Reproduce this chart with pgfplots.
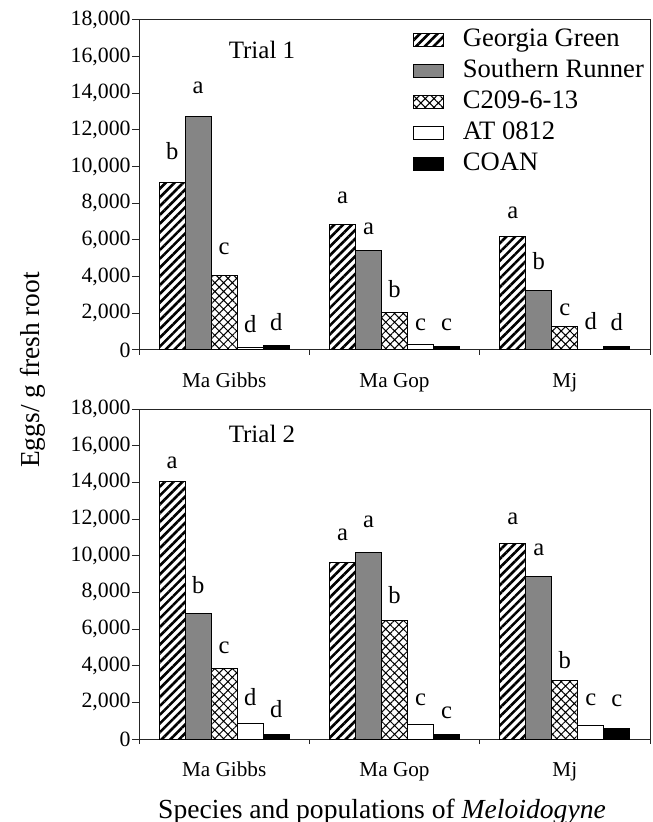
\documentclass[border=0pt]{standalone}
\usepackage{pgfplots}
\pgfplotsset{compat=1.18}
\usepackage{pgfplotstable}
\usetikzlibrary{patterns.meta}
\usepackage{fontspec}
\setmainfont{Liberation Serif}

\definecolor{srgray}{gray}{0.52}

% columns: value, letter, letter offset (px above bar top)
\pgfplotstableread{
x gg ggl ggo sr srl sro c2 c2l c2o at atl ato co col coo
0 9150 b 23 12730 a 23 4040 c 21 150 d 15 250 d 15
1 6850 a 21 5400 a 16 2020 b 15 290 c 14 200 c 16
2 6180 a 18 3240 b 21 1290 c 11 20 d 20 200 d 16
}\trialA

\pgfplotstableread{
x gg ggl ggo sr srl sro c2 c2l c2o at atl ato co col coo
0 14030 a 13 6840 b 20 3840 c 15 850 d 18 250 d 17
1 9610 a 22 10170 a 25 6440 b 17 780 c 19 270 c 16
2 10660 a 19 8850 a 21 3170 b 12 725 c 20 600 c 22
}\trialB

\pgfplotsset{
  myleg/.style={legend image code/.code={\draw[##1,draw=black,line width=0.5pt] (0pt,-3.25pt) rectangle (15pt,3.25pt);}},
  lettered/.style={nodes near coords, point meta=explicit symbolic,
    visualization depends on={\thisrow{#1} \as \ofs},
    nodes near coords style={anchor=base, inner sep=0pt, yshift=\ofs*0.5pt, text=black,
      font=\fontsize{12.3}{12}\selectfont}},
  gg/.style={draw=black, line width=0.5pt, pattern={Lines[angle=45,distance=3.1pt,line width=1.3pt]}, myleg},
  sr/.style={draw=black, line width=0.5pt, fill=srgray, myleg},
  c2/.style={draw=black, line width=0.5pt, pattern={Hatch[angle=45,distance=3.1pt,line width=0.5pt]}, myleg},
  at/.style={draw=black, line width=0.5pt, fill=white, myleg},
  co/.style={draw=black, line width=0.5pt, fill=black, myleg},
  panel/.style={
    scale only axis, width=255.5pt, height=165pt,
    xmin=-0.5, xmax=2.5, ymin=0, ymax=18000,
    ybar=0pt, bar width=13pt,
    xtick={0,1,2}, xticklabels={Ma Gibbs, Ma Gop, Mj},
    minor xtick={-0.5,0.5,1.5,2.5},
    major x tick style={draw=none},
    minor tick length=2.5pt, major tick length=3.5pt,
    tick align=outside, xtick pos=bottom, ytick pos=left,
    ytick={0,2000,...,18000}, scaled y ticks=false,
    /pgf/number format/1000 sep={,},
    /pgf/number format/assume math mode=true,
    yticklabel style={font=\fontsize{10.9}{12}\selectfont, inner sep=0pt, xshift=-0.5pt},
    xticklabel style={font=\fontsize{10.6}{12}\selectfont, inner sep=0pt, text height=7pt, anchor=north, yshift=-8pt},
    axis line style={black!85, line width=0.5pt},
    tick style={black!85, line width=0.5pt},
  },
}

\begin{document}
\begin{tikzpicture}
\useasboundingbox (0pt,0pt) rectangle (326pt,-411pt);

\begin{scope}[shift={(69.5pt,-10pt)}]
\begin{axis}[panel, anchor=north west,
  legend style={draw=none, fill=none, at={(0.536,1)}, anchor=north west, yshift=-2.5pt,
    inner sep=0pt, outer sep=0pt, font=\fontsize{13.3}{16}\selectfont, row sep=0pt,
    nodes={inner sep=1.5pt, text height=9.5pt, text depth=3pt, anchor=west},
    /tikz/every odd column/.append style={column sep=8pt}},
  legend cell align=left]
\addplot[gg, lettered=ggo] table[x=x, y=gg, meta=ggl] {\trialA};
\addplot[sr, lettered=sro] table[x=x, y=sr, meta=srl] {\trialA};
\addplot[c2, lettered=c2o] table[x=x, y=c2, meta=c2l] {\trialA};
\addplot[at, lettered=ato] table[x=x, y=at, meta=atl] {\trialA};
\addplot[co, lettered=coo] table[x=x, y=co, meta=col] {\trialA};
\legend{Georgia Green, Southern Runner, C209-6-13, AT 0812, COAN}
\node[anchor=base, font=\fontsize{12.5}{14}\selectfont] at (axis cs:0.222,15873) {Trial 1};
\end{axis}
\end{scope}

\begin{scope}[shift={(69.5pt,-204.5pt)}]
\begin{axis}[panel, anchor=north west]
\addplot[gg, lettered=ggo] table[x=x, y=gg, meta=ggl] {\trialB};
\addplot[sr, lettered=sro] table[x=x, y=sr, meta=srl] {\trialB};
\addplot[c2, lettered=c2o] table[x=x, y=c2, meta=c2l] {\trialB};
\addplot[at, lettered=ato] table[x=x, y=at, meta=atl] {\trialB};
\addplot[co, lettered=coo] table[x=x, y=co, meta=col] {\trialB};
\node[anchor=base, font=\fontsize{12.5}{14}\selectfont] at (axis cs:0.222,16151) {Trial 2};
\end{axis}
\end{scope}

\node[rotate=90, font=\fontsize{13.7}{16}\selectfont] at (16.5pt,-185pt) {Eggs/ g fresh root};
\node[anchor=base, font=\fontsize{13.8}{16}\selectfont] at (191pt,-409pt) {Species and populations of \textit{Meloidogyne}};
\end{tikzpicture}
\end{document}
